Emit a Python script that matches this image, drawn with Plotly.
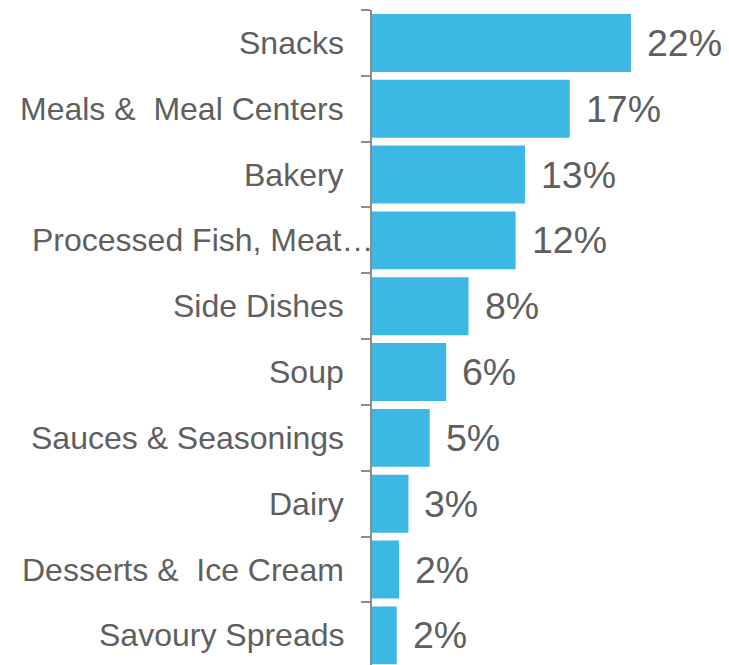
import plotly.graph_objects as go

# Share of category, in percent (top to bottom)
categories = [
    "Snacks",
    "Meals &  Meal Centers",
    "Bakery",
    "Processed Fish, Meat…",
    "Side Dishes",
    "Soup",
    "Sauces & Seasonings",
    "Dairy",
    "Desserts &  Ice Cream",
    "Savoury Spreads",
]
shares = [22.0, 16.8, 13.0, 12.2, 8.2, 6.3, 4.9, 3.1, 2.3, 2.1]

BAR_COLOR = "#3db7e4"
TEXT_COLOR = "#5f5f5f"
AXIS_COLOR = "#8c8c8c"
FONT = "Liberation Sans, Arial, sans-serif"

fig = go.Figure(
    go.Bar(
        x=shares,
        y=categories,
        orientation="h",
        width=0.88,
        marker=dict(color=BAR_COLOR, line=dict(width=0)),
        hoverinfo="skip",
    )
)

annotations = []
for cat, val in zip(categories, shares):
    # value label to the right of each bar
    annotations.append(dict(
        x=val, y=cat, xref="x", yref="y",
        text=f"{val:.0f}%", showarrow=False,
        xanchor="left", yanchor="middle", xshift=14,
        font=dict(family=FONT, size=37.5, color=TEXT_COLOR),
    ))
    # category label, right-aligned left of the axis; the truncated one runs up to it
    annotations.append(dict(
        x=0, y=cat, xref="x", yref="y",
        text=cat, showarrow=False,
        xanchor="right", yanchor="middle",
        xshift=3 if cat.endswith("…") else -26,
        font=dict(family=FONT, size=32, color=TEXT_COLOR),
    ))

fig.update_layout(
    width=729,
    height=665,
    margin=dict(l=372, r=0, t=10, b=0),
    paper_bgcolor="white",
    plot_bgcolor="white",
    showlegend=False,
    annotations=annotations,
    xaxis=dict(
        range=[0, 30.33],
        visible=False,
        showgrid=False,
        zeroline=False,
    ),
    yaxis=dict(
        type="category",
        categoryorder="array",
        categoryarray=categories,
        range=[9.45, -0.5],
        showticklabels=False,
        showline=True,
        linecolor=AXIS_COLOR,
        linewidth=1.5,
        ticks="outside",
        tickson="boundaries",
        ticklen=9,
        tickwidth=1.5,
        tickcolor=AXIS_COLOR,
        showgrid=False,
        zeroline=False,
    ),
)

fig.write_html("out.html")
